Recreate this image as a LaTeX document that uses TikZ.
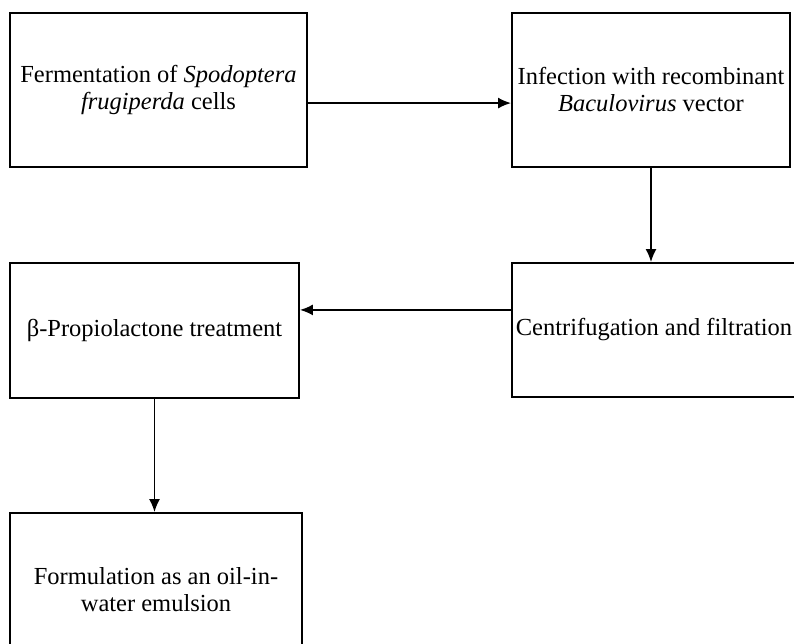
\documentclass[tikz,border=0pt]{standalone}
\usepackage{fontspec}
\setmainfont{Liberation Serif}
\usetikzlibrary{arrows.meta}
\tikzset{
  stepbox/.style={draw, line width=1.8pt, align=center, inner sep=2pt,
    font=\fontsize{24.5}{27}\selectfont},
  flow/.style={line width=1.8pt, -{Latex[length=13pt,width=11pt]}}
}
\begin{document}
\begin{tikzpicture}[x=1pt,y=-1pt]
  \clip (0,0) rectangle (794,644);
  % top row
  \node[stepbox, minimum width=297pt, minimum height=154pt] (ferm) at (158.5,90)
    {Fermentation of \textit{Spodoptera}\\\textit{frugiperda} cells};
  \node[stepbox, minimum width=278pt, minimum height=154pt] (infect) at (651,90)
    {Infection with recombinant\\\textit{Baculovirus} vector};
  % middle row
  \node[stepbox, minimum width=284pt, minimum height=134pt] (centri) at (654,330)
    {Centrifugation and filtration};
  \node[stepbox, minimum width=289pt, minimum height=135pt] (bpl) at (154.5,330.5)
    {β-Propiolactone treatment};
  % bottom row
  \node[stepbox, minimum width=292pt, minimum height=154pt] (formul) at (156,590)
    {Formulation as an oil-in-\\water emulsion};
  % connectors
  \draw[flow] (ferm.-5) -- (ferm.-5 -| infect.west);
  \draw[flow] (infect.south) -- (infect.south |- centri.north);
  \draw[flow] (centri.172.8) -- (centri.172.8 -| bpl.east);
  \draw[flow] (bpl.south) -- (bpl.south |- formul.north);
\end{tikzpicture}
\end{document}
